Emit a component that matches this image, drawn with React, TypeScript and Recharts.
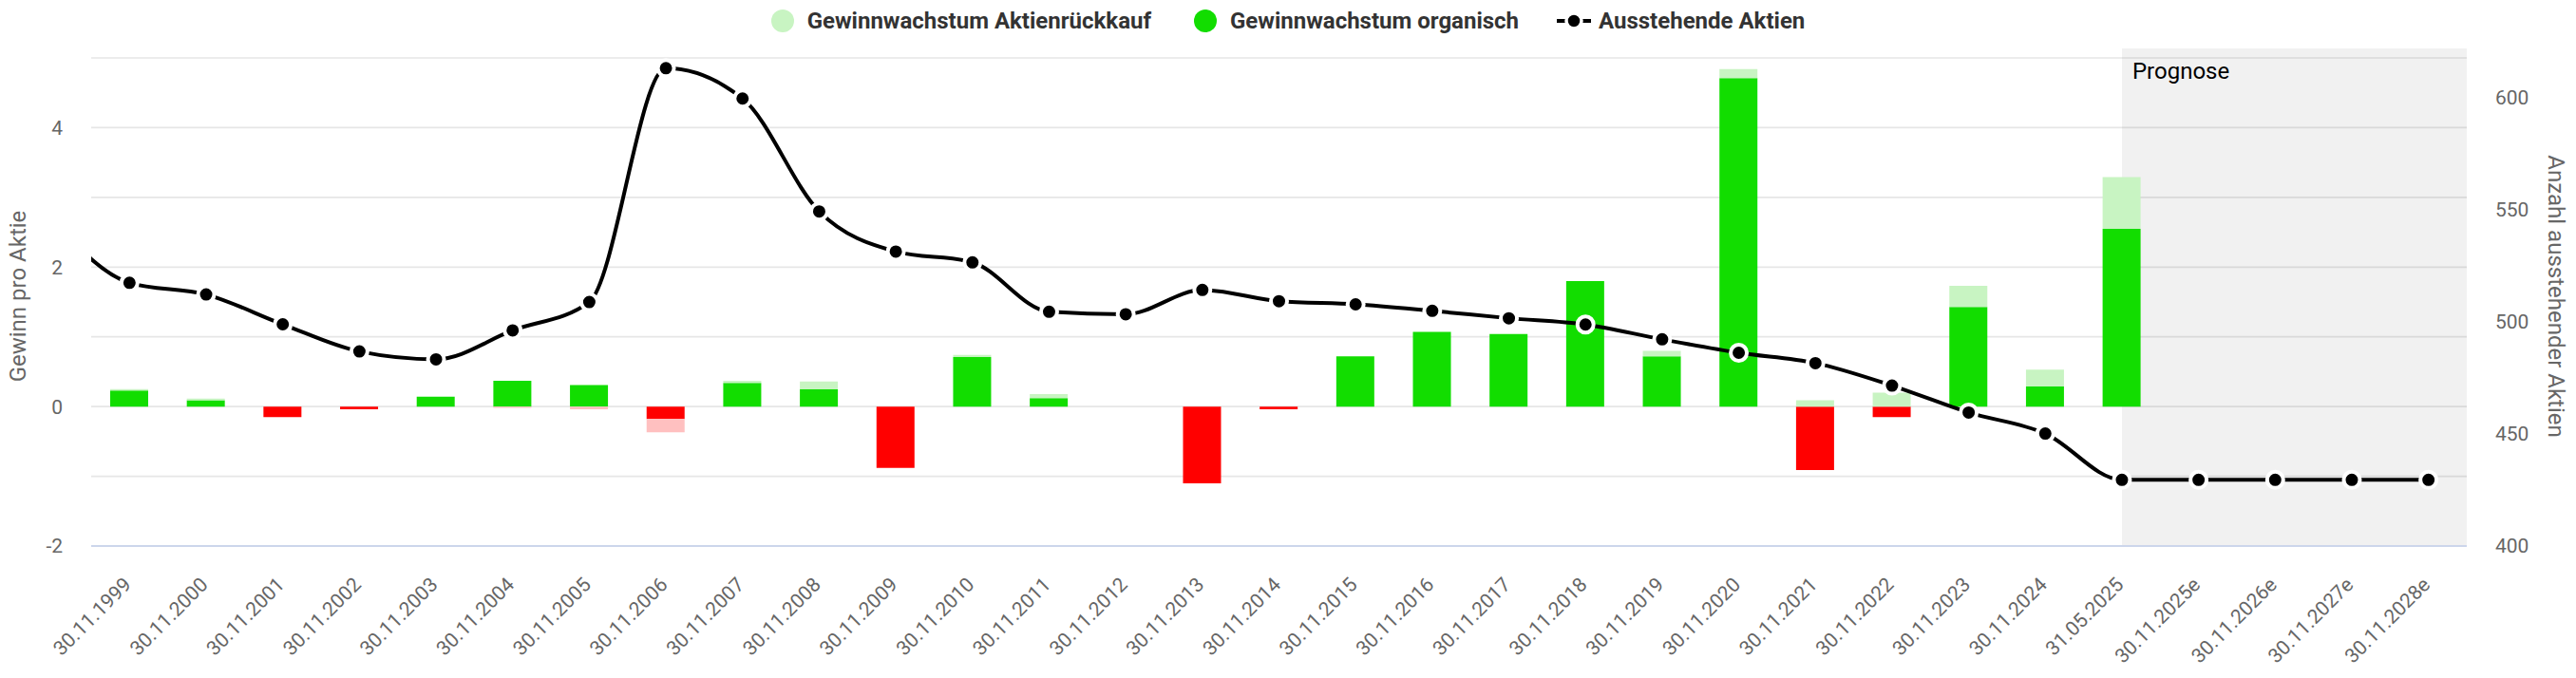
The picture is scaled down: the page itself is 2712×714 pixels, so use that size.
import {
  ComposedChart,
  Bar,
  Line,
  XAxis,
  YAxis,
  CartesianGrid,
  Cell,
  ReferenceArea,
} from 'recharts'

const categories = [
  '30.11.1999', '30.11.2000', '30.11.2001', '30.11.2002', '30.11.2003',
  '30.11.2004', '30.11.2005', '30.11.2006', '30.11.2007', '30.11.2008',
  '30.11.2009', '30.11.2010', '30.11.2011', '30.11.2012', '30.11.2013',
  '30.11.2014', '30.11.2015', '30.11.2016', '30.11.2017', '30.11.2018',
  '30.11.2019', '30.11.2020', '30.11.2021', '30.11.2022', '30.11.2023',
  '30.11.2024', '31.05.2025', '30.11.2025e', '30.11.2026e', '30.11.2027e',
  '30.11.2028e',
]

// EPS growth split (organic / buyback), null = forecast years without bars
const organic = [
  0.23, 0.09, -0.15, -0.04, 0.14, 0.37, 0.31, -0.18, 0.34, 0.25,
  -0.88, 0.71, 0.12, 0, -1.1, -0.04, 0.72, 1.07, 1.04, 1.8,
  0.72, 4.71, -0.91, -0.15, 1.43, 0.29, 2.55, null, null, null, null,
]
const buyback = [
  0.02, 0.025, 0, 0, 0, -0.02, -0.04, -0.19, 0.03, 0.11,
  0, 0.03, 0.06, 0, 0, 0, 0, 0, 0, 0,
  0.08, 0.13, 0.09, 0.2, 0.3, 0.24, 0.74, null, null, null, null,
]
// outstanding shares (millions); first value is the year before 1999,
// only its line segment shows at the left edge
const shares = [
  545,
  517.3, 512.1, 498.8, 486.7, 483.2, 496.1, 508.7, 612.9, 599.4, 549.1,
  531.2, 526.4, 504.4, 503.3, 514.1, 509.1, 507.7, 504.8, 501.5, 498.7,
  492.1, 486.1, 481.5, 471.5, 459.5, 450.1, 429.5, 429.5, 429.5, 429.5,
  429.5,
]

const leftTicks = [-2, -1, 0, 1, 2, 3, 4, 5]
const rightTicks = [400, 450, 500, 550, 600]

const data = categories.map((name, i) => ({
  name,
  organic: organic[i],
  buyback: buyback[i],
}))

// line on a numeric axis so the segment before the first category is kept (and clipped)
const lineData = shares.map((v, i) => ({ pos: i - 1, shares: v }))

const GREEN = '#12dd00'
const LIGHT_GREEN = '#c8f4c2'
const RED = '#ff0000'
const LIGHT_RED = '#ffc0c0'

function XTick({ x, y, payload }: any) {
  const ax = x + 3
  const ay = y + 42
  return (
    <text
      x={ax}
      y={ay}
      transform={`rotate(-45, ${ax}, ${ay})`}
      textAnchor="end"
      fill="#666"
      fontSize={21}
      fontFamily="Roboto"
    >
      {payload.value}
    </text>
  )
}

function ForecastShade(props: any) {
  const { x, y, width, height } = props
  const x0 = x + width / 10
  const y0 = y - 10
  return (
    <g>
      <rect x={x0} y={y0} width={width - width / 10} height={height + 10} fill="#000" fillOpacity={0.055} />
      <text x={x0 + 11} y={y0 + 32} fontSize={24} fontFamily="Roboto" fill="#000">
        Prognose
      </text>
    </g>
  )
}

function LegendBar() {
  const item = { display: 'flex', alignItems: 'center' } as const
  return (
    <div
      style={{
        position: 'absolute',
        left: 0,
        top: 0,
        width: 2712,
        height: 44,
        display: 'flex',
        justifyContent: 'center',
        alignItems: 'center',
        fontFamily: 'Roboto',
        fontWeight: 700,
        fontSize: 24,
        color: '#333',
      }}
    >
      <div style={{ ...item, marginRight: 45 }}>
        <svg width={24} height={24} style={{ marginRight: 14 }}>
          <circle cx={12} cy={12} r={12} fill={LIGHT_GREEN} />
        </svg>
        Gewinnwachstum Aktienrückkauf
      </div>
      <div style={{ ...item, marginRight: 40 }}>
        <svg width={24} height={24} style={{ marginRight: 14 }}>
          <circle cx={12} cy={12} r={12} fill={GREEN} />
        </svg>
        Gewinnwachstum organisch
      </div>
      <div style={item}>
        <svg width={36} height={24} style={{ marginRight: 8 }}>
          <line x1={0} y1={12} x2={36} y2={12} stroke="#000" strokeWidth={4} />
          <circle cx={18} cy={12} r={8} fill="#000" stroke="#fff" strokeWidth={3.5} />
        </svg>
        Ausstehende Aktien
      </div>
    </div>
  )
}

export default function App() {
  return (
    <div style={{ position: 'absolute', left: 0, top: 0, width: 2712, height: 714, background: '#fff' }}>
      <ComposedChart
        width={2712}
        height={714}
        data={data}
        stackOffset="sign"
        margin={{ top: 61, right: 0, bottom: 0, left: 0 }}
        style={{ fontFamily: 'Roboto' }}
      >
        <CartesianGrid yAxisId="left" vertical={false} stroke="#e6e6e6" strokeWidth={1.7} />
        <XAxis
          dataKey="name"
          height={139}
          interval={0}
          tickSize={0}
          tickMargin={0}
          tickLine={false}
          axisLine={{ stroke: '#ccd6eb', strokeWidth: 2 }}
          tick={<XTick />}
        />
        <XAxis
          xAxisId="line"
          dataKey="pos"
          type="number"
          domain={[-0.5, categories.length - 0.5]}
          allowDataOverflow
          hide
        />
        <YAxis
          yAxisId="left"
          width={96}
          domain={[-2, 5]}
          ticks={leftTicks}
          interval={0}
          tickFormatter={(v: number) => (v % 2 === 0 && v < 5 ? String(v) : '')}
          tickSize={0}
          tickMargin={30}
          axisLine={false}
          tickLine={false}
          tick={{ fill: '#666', fontSize: 21 }}
          label={{
            content: ({ viewBox }: any) => {
              const cx = viewBox.x + 27
              const cy = viewBox.y + viewBox.height / 2 - 6
              return (
                <text
                  x={cx}
                  y={cy}
                  transform={`rotate(-90, ${cx}, ${cy})`}
                  textAnchor="middle"
                  fill="#666"
                  fontSize={24}
                  fontFamily="Roboto"
                >
                  Gewinn pro Aktie
                </text>
              )
            },
          }}
        />
        <YAxis
          yAxisId="right"
          orientation="right"
          width={115}
          domain={[400, 617.5]}
          ticks={rightTicks}
          interval={0}
          tickSize={0}
          tickMargin={30}
          axisLine={false}
          tickLine={false}
          tick={{ fill: '#666', fontSize: 21, textAnchor: 'start' }}
          label={{
            content: ({ viewBox }: any) => {
              const cx = viewBox.x + 86
              const cy = viewBox.y + viewBox.height / 2 - 6
              return (
                <text
                  x={cx}
                  y={cy}
                  transform={`rotate(90, ${cx}, ${cy})`}
                  textAnchor="middle"
                  fill="#666"
                  fontSize={24}
                  fontFamily="Roboto"
                >
                  Anzahl ausstehender Aktien
                </text>
              )
            },
          }}
        />
        <Bar yAxisId="left" dataKey="organic" stackId="eps" barSize={40} isAnimationActive={false}>
          {organic.map((v, i) => (
            <Cell key={i} fill={(v ?? 0) >= 0 ? GREEN : RED} />
          ))}
        </Bar>
        <Bar yAxisId="left" dataKey="buyback" stackId="eps" barSize={40} isAnimationActive={false}>
          {buyback.map((v, i) => (
            <Cell key={i} fill={(v ?? 0) >= 0 ? LIGHT_GREEN : LIGHT_RED} />
          ))}
        </Bar>
        <ReferenceArea
          yAxisId="left"
          x1="31.05.2025"
          shape={<ForecastShade />}
          ifOverflow="visible"
        />
        <Line
          data={lineData}
          xAxisId="line"
          yAxisId="right"
          type="monotone"
          dataKey="shares"
          stroke="#000"
          strokeWidth={4}
          dot={{ r: 8.5, fill: '#000', stroke: '#fff', strokeWidth: 4 }}
          activeDot={false}
          isAnimationActive={false}
        />
      </ComposedChart>
      <LegendBar />
    </div>
  )
}
